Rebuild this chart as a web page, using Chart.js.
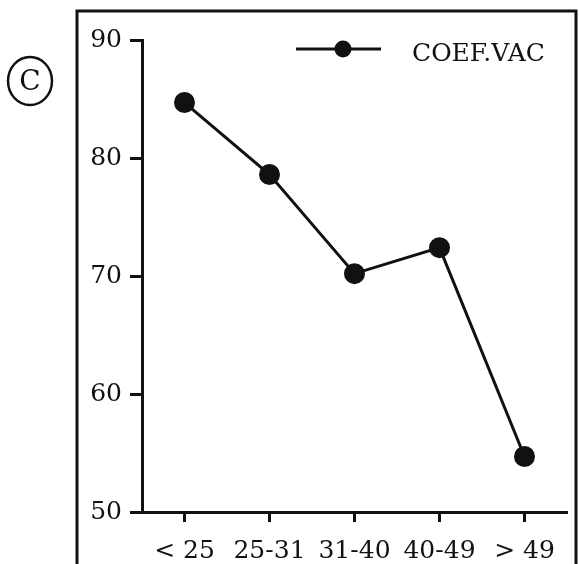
<!DOCTYPE html>
<html>
<head>
<meta charset="utf-8">
<script src="https://cdn.jsdelivr.net/npm/chart.js@4"></script>
<style>
  html, body { margin: 0; padding: 0; background: #fff; }
  #wrap { width: 580px; height: 564px; }
</style>
</head>
<body>
<div id="wrap"><canvas id="myChartCoef" width="580" height="564"></canvas></div>
<script>
// grupos de edad
const categorias = ["< 25", "25-31", "31-40", "40-49", "> 49"];
const coefVac = [84.7, 78.6, 70.2, 72.4, 54.7];
const ticksY = [50, 60, 70, 80, 90];

const fuente = "'DejaVu Serif', serif";

// marco exterior y la (c) en un circulo
const marco = {
	id: "marco",
	afterDraw(chart) {
		const c = chart.ctx;
		c.save();
		c.strokeStyle = "#111";
		c.lineWidth = 3;
		c.beginPath();
		c.moveTo(77, 570);
		c.lineTo(77, 11);
		c.lineTo(576, 11);
		c.lineTo(576, 570);
		c.stroke();
		c.lineWidth = 2.5;
		c.beginPath();
		c.ellipse(30, 81, 22, 24, 0, 0, Math.PI * 2);
		c.stroke();
		c.fillStyle = "#111";
		c.font = "28px " + fuente;
		c.textAlign = "center";
		c.textBaseline = "middle";
		c.fillText("C", 30, 83);
		c.restore();
	}
};

// leyenda dentro del area
const leyenda = {
	id: "leyenda",
	afterDraw(chart) {
		const c = chart.ctx;
		const ds = chart.data.datasets[0];
		c.save();
		c.strokeStyle = "#111";
		c.lineWidth = 3;
		c.beginPath();
		c.moveTo(296, 49);
		c.lineTo(381, 49);
		c.stroke();
		c.fillStyle = "#111";
		c.beginPath();
		c.arc(343, 49, 8.5, 0, Math.PI * 2);
		c.fill();
		c.font = "25px " + fuente;
		c.textAlign = "left";
		c.textBaseline = "middle";
		c.fillText(ds.label, 412, 54);
		c.restore();
	}
};

new Chart(document.getElementById("myChartCoef"), {
	type: "line",
	data: {
		labels: categorias,
		datasets: [
			{
				label: "COEF.VAC",
				data: coefVac,
				borderColor: "#111",
				backgroundColor: "#111",
				borderWidth: 3,
				pointRadius: 9,
				pointHoverRadius: 9,
				tension: 0
			}
		]
	},
	options: {
		responsive: false,
		animation: false,
		layout: {
			padding: { left: 0, right: 13, top: 40, bottom: 0 }
		},
		plugins: {
			legend: { display: false },
			tooltip: { enabled: false }
		},
		scales: {
			x: {
				offset: true,
				afterFit(scale) { scale.height = 52; },
				border: { display: true, color: "#111", width: 3 },
				grid: {
					display: true,
					drawOnChartArea: false,
					drawTicks: true,
					tickLength: 10,
					tickWidth: 3,
					tickColor: "#111",
					offset: false
				},
				ticks: {
					color: "#111",
					padding: 14,
					maxRotation: 0,
					font: { family: fuente, size: 25 }
				}
			},
			y: {
				min: 50,
				max: 90,
				afterFit(scale) { scale.width = 142; },
				afterBuildTicks(scale) {
					scale.ticks = ticksY.map(v => ({ value: v }));
				},
				border: { display: true, color: "#111", width: 3 },
				grid: {
					display: true,
					drawOnChartArea: false,
					drawTicks: true,
					tickLength: 12,
					tickWidth: 3,
					tickColor: "#111"
				},
				ticks: {
					color: "#111",
					padding: 8,
					font: { family: fuente, size: 25 }
				}
			}
		}
	},
	plugins: [marco, leyenda]
});
</script>
</body>
</html>
